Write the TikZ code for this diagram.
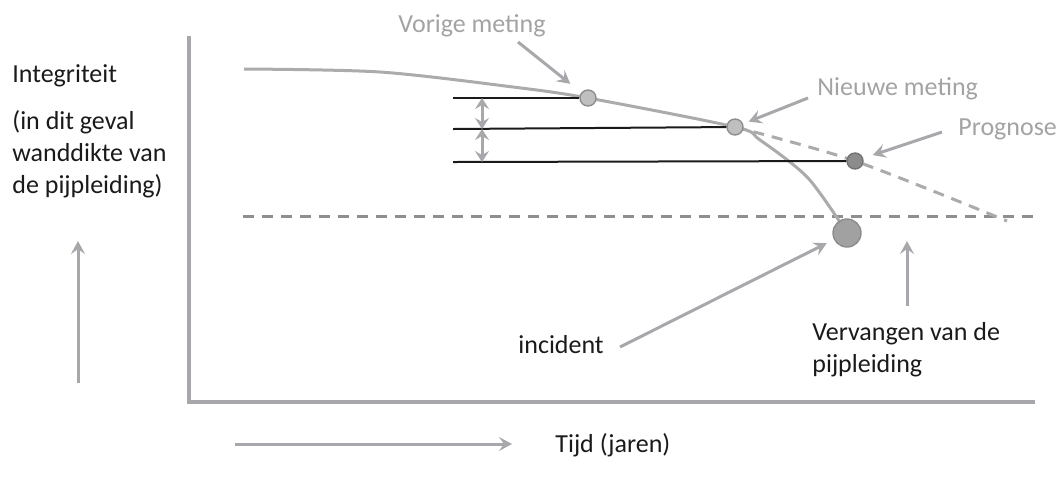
\documentclass[tikz,border=0pt]{standalone}
\usepackage{fontspec}
\setmainfont{Carlito}
\usetikzlibrary{arrows.meta}

\definecolor{asgrijs}{HTML}{A8A8AC}
\definecolor{tekstgrijs}{HTML}{A3A3A3}
\definecolor{lijngrijs}{HTML}{ABABAB}
\definecolor{streepgrijs}{HTML}{8E8E8E}
\definecolor{zwart}{HTML}{1A1A1A}

\tikzset{
  pijl/.style={draw=asgrijs, line width=1.5pt, -{Stealth[length=6.5pt,width=7pt,inset=2.5pt]}},
  dubbel/.style={draw=asgrijs, line width=1.5pt,
    {Stealth[length=5.5pt,width=7pt,inset=2pt]}-{Stealth[length=5.5pt,width=7pt,inset=2pt]}},
  meetlijn/.style={draw=zwart, line width=1pt},
  meting/.style={circle, draw=streepgrijs, line width=0.7pt, fill=black!25, minimum size=8pt, inner sep=0pt},
  label/.style={anchor=base west, inner sep=0pt}
}

\begin{document}
\begin{tikzpicture}[x=0.5pt, y=-0.5pt, font=\fontsize{13}{16}\selectfont]
  \useasboundingbox (0,0) rectangle (1059,484);

  % assen
  \draw[asgrijs, line width=2pt] (189,36) |- (1035,402);

  \coordinate (c1) at (588,98);
  \coordinate (c2) at (735,127);
  \coordinate (c3) at (855,161);
  \coordinate (c4) at (847,233);

  % grens en prognose
  \draw[streepgrijs, line width=1.5pt, dash pattern=on 5.5pt off 4pt] (243,216) -- (1035,216);
  \draw[lijngrijs, line width=1.5pt, dash pattern=on 5.5pt off 4pt]
    plot[smooth] coordinates {(c2) (c3) (1007,221)};

  % verloop
  \draw[lijngrijs, line width=1.5pt]
    plot[smooth] coordinates {(244,69) (380,72) (513,87) (c1) (c2) (760,140) (808,178) (c4)};

  \begin{scope}[every node/.style={meting}]
    \node (1) at (c1) {};
    \node (2) at (c2) {};
    \node[fill=black!45, draw=black!55] (3) at (c3) {};
    \node[fill=black!37, draw=black!45, minimum size=14pt] (4) at (c4) {};
  \end{scope}

  \coordinate (l1) at (453,98);
  \coordinate (l2) at (453,129);
  \coordinate (l3) at (453,162);
  \draw[meetlijn] (l1) -- (1);
  \draw[meetlijn] (l2) -- (2);
  \draw[meetlijn] (l3) -- (3);

  \coordinate (a1) at (482,98);
  \coordinate (a2) at (482,129);
  \coordinate (a3) at (482,162);
  \draw[dubbel] (a1) -- (a2);
  \draw[dubbel] (a2) -- (a3);

  % teksten (base = laatste regel)
  \begin{scope}[every node/.style={label, text=zwart}]
    \node (int) at (12,82) {Integriteit};
    \node[align=left] (geval) at (12,193) {(in dit geval\\wanddikte van\\de pijpleiding)};
    \node (inc) at (518,353) {incident};
    \node[align=left] (verv) at (812,372) {Vervangen van de\\pijpleiding};
    \node (tijd) at (555,452) {Tijd (jaren)};
  \end{scope}

  \begin{scope}[every node/.style={label, text=tekstgrijs}]
    \node (vorige) at (398,32) {Vorige meting};
    \node (nieuwe) at (817,95) {Nieuwe meting};
    \node (progn) at (958,135) {Prognose};
  \end{scope}

  % pijlen
  \coordinate (p1) at (518,42);
  \coordinate (p2) at (808,98);
  \coordinate (p3) at (942,132);
  \coordinate (p4) at (620,347);
  \coordinate (p5) at (907,306);
  \coordinate (p6) at (907,241);
  \coordinate (y0) at (78,383);
  \coordinate (y1) at (78,241);
  \coordinate (x0) at (235,444);
  \coordinate (x1) at (512,444);
  \draw[pijl, shorten >=7pt] (p1) -- (1);
  \draw[pijl, shorten >=3pt] (p2) -- (2);
  \draw[pijl, shorten >=5pt] (p3) -- (3);
  \draw[pijl, shorten >=4pt] (p4) -- (4);
  \draw[pijl] (p5) -- (p6);
  \draw[pijl] (y0) -- (y1);
  \draw[pijl] (x0) -- (x1);

\end{tikzpicture}
\end{document}
